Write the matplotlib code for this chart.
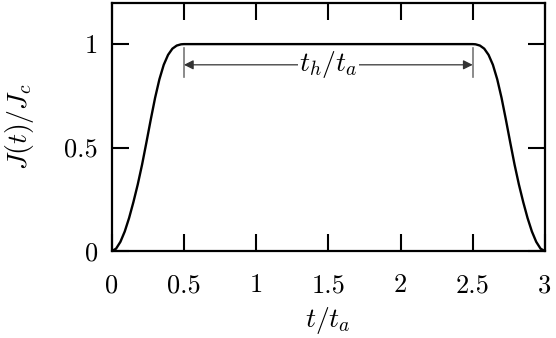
import matplotlib
matplotlib.use("Agg")
import matplotlib.pyplot as plt

plt.rcParams['font.family'] = 'serif'
plt.rcParams['font.serif'] = ['cmr10']
plt.rcParams['mathtext.fontset'] = 'cm'
plt.rcParams['axes.formatter.use_mathtext'] = True

# ramp up
t_up = [0, 0.03, 0.06, 0.09, 0.12, 0.15, 0.18, 0.21, 0.24, 0.27, 0.30,
        0.33, 0.36, 0.39, 0.42, 0.45, 0.48, 0.5]
J_up = [0, 0.012, 0.045, 0.095, 0.16, 0.237, 0.322, 0.418, 0.525, 0.635,
        0.74, 0.83, 0.90, 0.948, 0.978, 0.993, 0.999, 1.0]
# ramp down
t_down = [2.5, 2.52, 2.55, 2.58, 2.61, 2.64, 2.67, 2.70, 2.73, 2.76, 2.79,
          2.82, 2.85, 2.88, 2.91, 2.94, 2.97, 3.0]
J_down = [1.0, 0.999, 0.993, 0.978, 0.948, 0.90, 0.83, 0.74, 0.635, 0.525,
          0.418, 0.322, 0.237, 0.16, 0.095, 0.045, 0.012, 0.0]

xticks = [0, 0.5, 1, 1.5, 2, 2.5, 3]
xlabels = ['0', '0.5', '1', '1.5', '2', '2.5', '3']
yticks = [0, 0.5, 1]
ylabels = ['0', '0.5', '1']

t = t_up + t_down
J = J_up + J_down

fig = plt.figure(figsize=(5.56, 3.38), dpi=100)
ax = fig.add_axes([0.201, 0.257, 0.779, 0.735])

ax.plot(t, J, color='black', lw=1.7, solid_joinstyle='round')

# hold time marker
ax.plot([0.5, 0.5], [0.84, 0.98], color='#777777', lw=1.2)
ax.plot([2.5, 2.5], [0.84, 0.98], color='#777777', lw=1.2)
ax.annotate('', xy=(0.5, 0.9), xytext=(2.5, 0.9),
            arrowprops=dict(arrowstyle='<|-|>', color='#333333', lw=0.9,
                            shrinkA=0, shrinkB=0, mutation_scale=14))
ax.text(1.5, 0.9, r'$t_h/t_a$', ha='center', va='center', fontsize=20,
        bbox=dict(facecolor='white', edgecolor='none', pad=1.0))

ax.set_xlim(0, 3)
ax.set_ylim(0, 1.2)
ax.set_xticks(xticks)
ax.set_xticklabels(xlabels)
ax.set_yticks(yticks)
ax.set_yticklabels(ylabels)
ax.tick_params(direction='in', length=12, width=1.5, labelsize=19,
               top=True, right=True)
ax.tick_params(axis='x', pad=16)
ax.tick_params(axis='y', pad=10)
for s in ax.spines.values():
    s.set_linewidth(1.6)

ax.set_xlabel(r'$t/t_a$', fontsize=20, labelpad=6)
ax.set_ylabel(r'$J(t)/J_c$', fontsize=20, labelpad=20)

fig.savefig('out.png', dpi=100)
